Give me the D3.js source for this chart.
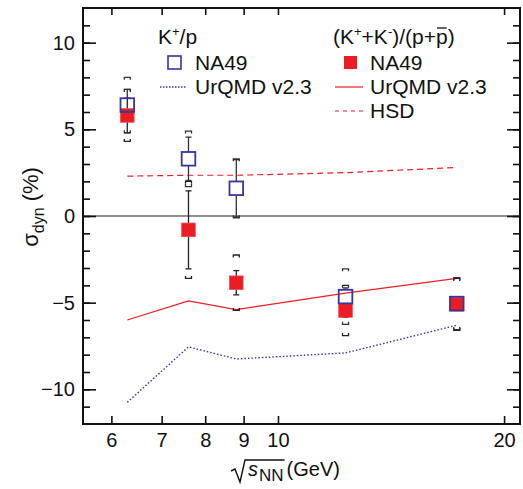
<!DOCTYPE html>
<html>
<head>
<meta charset="utf-8">
<script src="https://cdn.jsdelivr.net/npm/d3@7"></script>
<style>
  body { margin: 0; background: #fff; }
  svg { display: block; }
  text { font-family: 'Liberation Sans', Arial, sans-serif; fill: #111; }
</style>
</head>
<body>
<svg class="chart" width="523" height="489"></svg>
<script>
// sqrt(s_NN) in GeV
const energies = [6.3, 7.6, 8.8, 12.3, 17.3]

// K+/p, NA49
const kpNA49 = [6.4, 3.3, 1.6, -4.65, -5.05]
const kpStat = [0.9, 1.25, 1.65, 0.5, 0.3]
const kpSys = [1.6, 1.6, 1.7, 1.6, 1.5]

// (K+ + K-)/(p + pbar), NA49
const kkppNA49 = [5.8, -0.8, -3.85, -5.45, -5.1]
const kkppStat = [1.0, 2.25, 0.7, 0.4, 0.3]
const kkppSys = [1.5, 2.8, 1.6, 1.45, 1.5]

// models
const kpUrqmd = [-10.75, -7.55, -8.25, -7.9, -6.3]
const kkppUrqmd = [-6.0, -4.9, -5.4, -4.45, -3.6]
const kkppHsd = [2.3, 2.35, 2.35, 2.5, 2.8]

const xTicks = [6, 7, 8, 9, 10, 20]
const yMajor = [-10, -5, 0, 5, 10]
const yMinor = d3.range(-11, 12)

const blue = '#36369c'
const red = '#ec1c24'

const padL = 83, padR = 520, padT = 8, padB = 424
const half = 6.8 // half marker size

const xSc = d3.scaleLog().domain([5.5, 21]).range([padL, padR])
const ySc = d3.scaleLinear().domain([-12, 12]).range([padB, padT])

const chart = d3.select('.chart')

function zip(xs, ys, st, sy) {
  return xs.map((x, i) => ({ x: x, y: ys[i], stat: st ? st[i] : 0, sys: sy ? sy[i] : 0 }))
}

// ---- axes ----
function plot_axes() {
  chart.append('line')
    .attr('x1', padL).attr('x2', padR)
    .attr('y1', ySc(0)).attr('y2', ySc(0))
    .attr('stroke', '#222').attr('stroke-width', 1.1)

  const gB = chart.append('g').attr('transform', `translate(0,${padB})`)
    .call(d3.axisBottom(xSc).tickValues(xTicks).tickSizeInner(-8).tickSizeOuter(0)
      .tickPadding(9).tickFormat(d3.format('d')))
  const gT = chart.append('g').attr('transform', `translate(0,${padT})`)
    .call(d3.axisTop(xSc).tickValues(xTicks).tickSizeInner(-7).tickSizeOuter(0).tickFormat(''))
  const gL = chart.append('g').attr('transform', `translate(${padL},0)`)
    .call(d3.axisLeft(ySc).tickValues(yMajor).tickSizeInner(-13).tickSizeOuter(0)
      .tickPadding(8).tickFormat(d3.format('d')))
  const gLm = chart.append('g').attr('transform', `translate(${padL},0)`)
    .call(d3.axisLeft(ySc).tickValues(yMinor).tickSizeInner(-7).tickSizeOuter(0).tickFormat(''))
  const gR = chart.append('g').attr('transform', `translate(${padR},0)`)
    .call(d3.axisRight(ySc).tickValues(yMajor).tickSizeInner(-13).tickSizeOuter(0).tickFormat(''))
  const gRm = chart.append('g').attr('transform', `translate(${padR},0)`)
    .call(d3.axisRight(ySc).tickValues(yMinor).tickSizeInner(-7).tickSizeOuter(0).tickFormat(''))

  ;[gB, gT, gL, gLm, gR, gRm].forEach(g => {
    g.select('.domain').remove()
    g.selectAll('line').attr('stroke', '#111').attr('stroke-width', 1.6)
    g.selectAll('text').attr('font-size', 20).attr('font-family', "'Liberation Sans', Arial, sans-serif")
  })

  chart.append('rect')
    .attr('x', padL).attr('y', padT)
    .attr('width', padR - padL).attr('height', padB - padT)
    .attr('fill', 'none').attr('stroke', '#111').attr('stroke-width', 2)

  // y title: sigma_dyn (%)
  const yt = chart.append('text')
    .attr('transform', 'translate(38,207) rotate(-90)')
    .attr('text-anchor', 'middle')
    .attr('font-size', 22)
  yt.append('tspan').text('σ')
  yt.append('tspan').attr('font-size', 16).attr('dy', 6).text('dyn')
  yt.append('tspan').attr('dy', -6).text(' (%)')

  // x title: sqrt(s_NN) (GeV)
  const xt = chart.append('text')
    .attr('x', 248).attr('y', 476)
    .attr('font-size', 20)
  xt.append('tspan').attr('font-style', 'italic').text('s')
  xt.append('tspan').attr('font-size', 17).attr('dy', 5).attr('dx', 1).text('NN')
  xt.append('tspan').attr('dy', -5).attr('dx', 3).text('(GeV)')
  const xEnd = xt.node().getEndPositionOfChar(2).x + 1
  chart.append('path')
    .attr('d', `M 231 471 L 235 469 L 240 482 L 245 460 L ${xEnd} 460`)
    .attr('fill', 'none').attr('stroke', '#111').attr('stroke-width', 1.4)
}

// ---- data ----
function plot_model(vals, color, dash, width) {
  const line = d3.line().x(d => xSc(d.x)).y(d => ySc(d.y))
  chart.append('path')
    .datum(zip(energies, vals))
    .attr('d', line)
    .attr('fill', 'none')
    .attr('stroke', color)
    .attr('stroke-width', width)
    .attr('stroke-dasharray', dash)
}

function plot_errors(pts, color) {
  const g = chart.append('g').attr('stroke', color).attr('stroke-width', 1.3).attr('fill', 'none')
  // stat bars, skipping the marker
  pts.forEach(d => {
    const cx = xSc(d.x), cy = ySc(d.y)
    const yHi = ySc(d.y + d.stat), yLo = ySc(d.y - d.stat)
    if (cy - half > yHi) g.append('line').attr('x1', cx).attr('x2', cx).attr('y1', yHi).attr('y2', cy - half)
    if (yLo > cy + half) g.append('line').attr('x1', cx).attr('x2', cx).attr('y1', cy + half).attr('y2', yLo)
    ;[yHi, yLo].forEach(yy => {
      if (Math.abs(yy - cy) > half) g.append('line').attr('x1', cx - 3).attr('x2', cx + 3).attr('y1', yy).attr('y2', yy)
    })
    // sys brackets
    const sHi = ySc(d.y + d.sys), sLo = ySc(d.y - d.sys)
    g.append('path').attr('d', `M ${cx - 3} ${sHi + 2.5} V ${sHi} H ${cx + 3} V ${sHi + 2.5}`)
    g.append('path').attr('d', `M ${cx - 3} ${sLo - 2.5} V ${sLo} H ${cx + 3} V ${sLo - 2.5}`)
  })
}

function plot_points(pts, filled) {
  chart.append('g')
    .selectAll('rect')
    .data(pts)
    .enter()
    .append('rect')
    .attr('x', d => xSc(d.x) - half)
    .attr('y', d => ySc(d.y) - half)
    .attr('width', 2 * half)
    .attr('height', 2 * half)
    .attr('fill', filled ? red : 'none')
    .attr('stroke', filled ? '#ef4a50' : blue)
    .attr('stroke-width', filled ? 0.8 : 1.8)
}

// ---- legend ----
function plot_legend() {
  const fs = 21
  const lg = chart.append('g')

  const t1 = lg.append('text').attr('x', 158).attr('y', 44).attr('font-size', fs)
  t1.append('tspan').text('K')
  t1.append('tspan').attr('font-size', 13).attr('dy', -8).text('+')
  t1.append('tspan').attr('dy', 8).text('/p')

  lg.append('rect').attr('x', 168).attr('y', 56).attr('width', 13).attr('height', 13)
    .attr('fill', 'none').attr('stroke', blue).attr('stroke-width', 1.6)
  lg.append('text').attr('x', 195).attr('y', 70).attr('font-size', fs).text('NA49')
  lg.append('line').attr('x1', 160).attr('x2', 187).attr('y1', 87).attr('y2', 87)
    .attr('stroke', blue).attr('stroke-width', 1.5).attr('stroke-dasharray', '1.5,1.5')
  lg.append('text').attr('x', 195).attr('y', 94).attr('font-size', fs).text('UrQMD v2.3')

  const t2 = lg.append('text').attr('x', 333).attr('y', 44).attr('font-size', fs)
  t2.append('tspan').text('(K')
  t2.append('tspan').attr('font-size', 13).attr('dy', -8).text('+')
  t2.append('tspan').attr('dy', 8).text('+K')
  t2.append('tspan').attr('font-size', 13).attr('dy', -8).text('-')
  t2.append('tspan').attr('dy', 8).text(')/(p+p)')
  const n = t2.text().length
  const pS = t2.node().getStartPositionOfChar(n - 2).x
  const pE = t2.node().getEndPositionOfChar(n - 2).x
  lg.append('line').attr('x1', pS + 1).attr('x2', pE - 1).attr('y1', 28).attr('y2', 28)
    .attr('stroke', '#111').attr('stroke-width', 1.3)

  lg.append('rect').attr('x', 344).attr('y', 56).attr('width', 13).attr('height', 13)
    .attr('fill', red)
  lg.append('text').attr('x', 370).attr('y', 70).attr('font-size', fs).text('NA49')
  lg.append('line').attr('x1', 335).attr('x2', 363).attr('y1', 87).attr('y2', 87)
    .attr('stroke', red).attr('stroke-width', 1.2)
  lg.append('text').attr('x', 370).attr('y', 94).attr('font-size', fs).text('UrQMD v2.3')
  lg.append('line').attr('x1', 335).attr('x2', 363).attr('y1', 111).attr('y2', 111)
    .attr('stroke', red).attr('stroke-width', 1.2).attr('stroke-dasharray', '4,4')
  lg.append('text').attr('x', 370).attr('y', 118).attr('font-size', fs).text('HSD')
}

plot_axes()

plot_model(kpUrqmd, blue, '1.5,2', 1.4)
plot_model(kkppUrqmd, red, null, 1.2)
plot_model(kkppHsd, red, '6,4', 1.2)

const redPts = zip(energies, kkppNA49, kkppStat, kkppSys)
const bluePts = zip(energies, kpNA49, kpStat, kpSys)

plot_errors(redPts, '#222')
plot_errors(bluePts, '#333')
plot_points(redPts, true)
plot_points(bluePts, false)

plot_legend()
</script>
</body>
</html>
